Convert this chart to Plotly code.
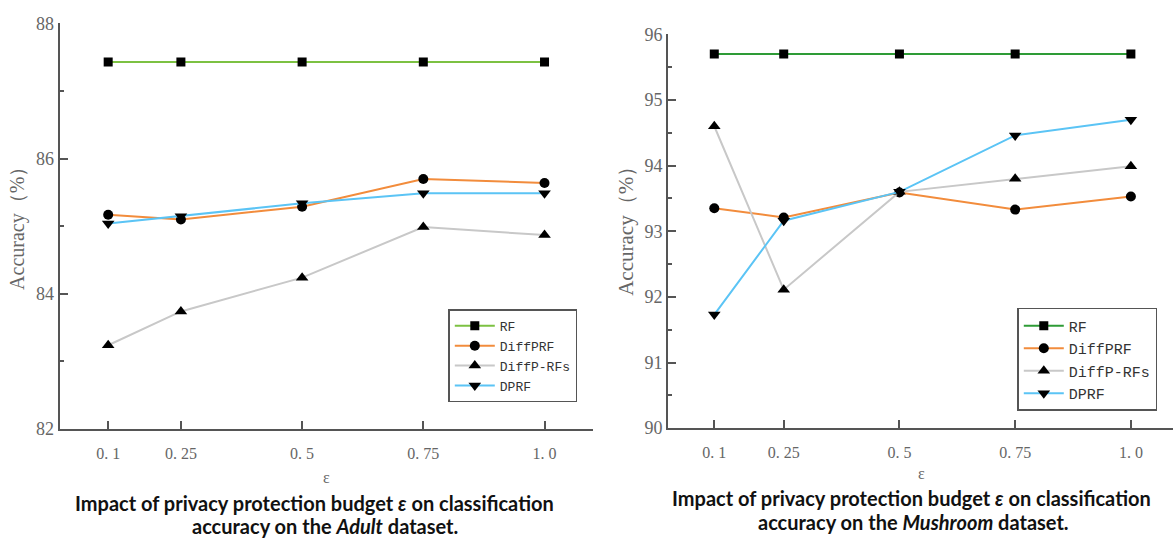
import plotly.graph_objects as go

# ---------------- data ----------------
eps = [0.1, 0.25, 0.5, 0.75, 1.0]
eps_labels = ["0. 1", "0. 25", "0. 5", "0. 75", "1. 0"]
series_names = ["RF", "DiffPRF", "DiffP-RFs", "DPRF"]

adult_rf = [87.43, 87.43, 87.43, 87.43, 87.43]
adult_diffprf = [85.17, 85.10, 85.29, 85.70, 85.64]
adult_diffprfs = [83.24, 83.74, 84.24, 84.99, 84.87]
adult_dprf = [85.04, 85.15, 85.34, 85.49, 85.49]

mush_rf = [95.70, 95.70, 95.70, 95.70, 95.70]
mush_diffprf = [93.35, 93.21, 93.59, 93.33, 93.53]
mush_diffprfs = [94.60, 92.11, 93.60, 93.80, 93.99]
mush_dprf = [91.73, 93.16, 93.60, 94.46, 94.70]

W, H = 1173, 547
def px(x):
    return x / W
def py(y):
    return 1 - y / H

symbols = ["square", "circle", "triangle-up", "triangle-down"]
msizes = [9, 10, 11, 11]
colors_left = ["#7cc142", "#f28c3c", "#c8c8c8", "#5bc4f5"]
colors_right = ["#2e9b36", "#f28c3c", "#c8c8c8", "#5bc4f5"]

fig = go.Figure()

left_data = [adult_rf, adult_diffprf, adult_diffprfs, adult_dprf]
right_data = [mush_rf, mush_diffprf, mush_diffprfs, mush_dprf]

for i, name in enumerate(series_names):
    fig.add_trace(go.Scatter(
        x=eps, y=left_data[i], name=name, mode="lines+markers",
        line=dict(color=colors_left[i], width=2),
        marker=dict(symbol=symbols[i], size=msizes[i], color="black"),
        xaxis="x", yaxis="y", legend="legend"))
for i, name in enumerate(series_names):
    fig.add_trace(go.Scatter(
        x=eps, y=right_data[i], name=name, mode="lines+markers",
        line=dict(color=colors_right[i], width=2),
        marker=dict(symbol=symbols[i], size=msizes[i], color="black"),
        xaxis="x2", yaxis="y2", legend="legend2"))

axcol = "#555555"
serif = "Liberation Serif, Times New Roman, serif"
mono = "Liberation Mono, Courier New, monospace"
tickfont_x = dict(family=serif, size=16, color="#666666")
tickfont_y = dict(family=serif, size=18, color="#666666")

common_x = dict(range=[0, 1.1], tickvals=eps, ticktext=eps_labels, ticks="inside",
                ticklen=8, tickwidth=1.5, tickcolor=axcol, showline=True, linecolor=axcol,
                linewidth=2, showgrid=False, zeroline=False, tickfont=tickfont_x,
                ticklabelstandoff=9)

fig.update_layout(
    width=W, height=H, margin=dict(l=0, r=0, t=0, b=0),
    paper_bgcolor="white", plot_bgcolor="white",
    xaxis=dict(domain=[px(59.7), px(593)], anchor="y", **common_x),
    yaxis=dict(domain=[py(435), py(14)], anchor="x", range=[82, 88], dtick=2,
               ticks="inside", ticklen=8, tickwidth=1.5, tickcolor=axcol,
               showline=True, linecolor=axcol, linewidth=2, showgrid=False,
               zeroline=False, tickfont=tickfont_y,
               minor=dict(dtick=1, ticks="inside", ticklen=4, tickwidth=1.5, tickcolor=axcol)),
    xaxis2=dict(domain=[px(668), 1.0], anchor="y2", **{**common_x, "range": [0, 1.091]}),
    yaxis2=dict(domain=[py(434), py(25.3)], anchor="x2", range=[90, 96], dtick=1,
                ticks="inside", ticklen=8, tickwidth=1.5, tickcolor=axcol,
                showline=True, linecolor=axcol, linewidth=2, showgrid=False,
                zeroline=False, tickfont=tickfont_y,
                minor=dict(dtick=0.5, ticks="inside", ticklen=4, tickwidth=1.5, tickcolor=axcol)),
    legend=dict(x=px(448.3), y=py(310.7), xanchor="left", yanchor="top",
                bordercolor=axcol, borderwidth=1.5, bgcolor="white",
                font=dict(family=mono, size=13, color="#333333"),
                itemwidth=40, tracegroupgap=0),
    legend2=dict(x=px(1017.3), y=py(309.3), xanchor="left", yanchor="top",
                 bordercolor=axcol, borderwidth=1.5, bgcolor="white",
                 font=dict(family=mono, size=15, color="#333333"),
                 itemwidth=40, tracegroupgap=0),
    showlegend=True,
)

ann = []
# y axis titles
ann.append(dict(text="Accuracy（%）", x=px(18), y=py(222), xref="paper", yref="paper",
                textangle=-90, showarrow=False, xanchor="center", yanchor="middle",
                font=dict(family=serif, size=20, color="#666666")))
ann.append(dict(text="Accuracy（%）", x=px(626), y=py(224), xref="paper", yref="paper",
                textangle=-90, showarrow=False, xanchor="center", yanchor="middle",
                font=dict(family=serif, size=21, color="#666666")))
# x axis titles
ann.append(dict(text="ε", x=px(326), y=py(485), xref="paper", yref="paper", showarrow=False,
                xanchor="center", yanchor="middle",
                font=dict(family=serif, size=16, color="#666666")))
ann.append(dict(text="ε", x=px(921), y=py(481), xref="paper", yref="paper", showarrow=False,
                xanchor="center", yanchor="middle",
                font=dict(family=serif, size=16, color="#666666")))
# captions
capfont = dict(family="Lato", size=20, color="#111111")
ann.append(dict(text="<b>Impact of privacy protection budget <i>ε</i> on classification</b>",
                x=px(314), y=py(512), xref="paper", yref="paper", showarrow=False,
                xanchor="center", yanchor="middle", font=capfont))
ann.append(dict(text="<b>accuracy on the <i>Adult</i> dataset.</b>",
                x=px(325), y=py(536), xref="paper", yref="paper", showarrow=False,
                xanchor="center", yanchor="middle", font=capfont))
ann.append(dict(text="<b>Impact of privacy protection budget <i>ε</i> on classification</b>",
                x=px(911), y=py(507), xref="paper", yref="paper", showarrow=False,
                xanchor="center", yanchor="middle", font=capfont))
ann.append(dict(text="<b>accuracy on the <i>Mushroom</i> dataset.</b>",
                x=px(913), y=py(531), xref="paper", yref="paper", showarrow=False,
                xanchor="center", yanchor="middle", font=capfont))
fig.update_layout(annotations=ann)

fig.write_html("out.html")
